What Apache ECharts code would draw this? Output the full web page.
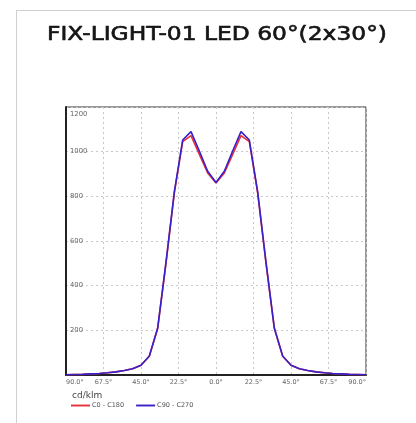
<!DOCTYPE html>
<html>
<head>
<meta charset="utf-8">
<script src="https://cdn.jsdelivr.net/npm/echarts@6/dist/echarts.min.js"></script>
<style>
html,body{margin:0;padding:0;background:#fff;overflow:hidden;}
#card{position:absolute;left:16px;top:10px;width:440px;height:440px;border:1px solid #d0d0d0;box-sizing:border-box;}
#chart{position:absolute;left:0;top:0;width:416px;height:423px;}
</style>
</head>
<body>
<div id="card"></div>
<div id="chart"></div>
<script>
var angles = [-90,-85,-80,-75,-70,-65,-60,-55,-50,-45,-40,-35,-30,-25,-20,-15,-10,-5,0,5,10,15,20,25,30,35,40,45,50,55,60,65,70,75,80,85,90];
var c0c180 = [1,2,3,5,7,10,14,20,28,44,84,208,500,815,1045,1072,988,905,860,905,988,1072,1045,815,500,208,84,44,28,20,14,10,7,5,3,2,1];
var c90c270 = [1,2,3,5,7,10,14,20,28,44,85,210,505,820,1052,1090,1003,912,862,912,1003,1090,1052,820,505,210,85,44,28,20,14,10,7,5,3,2,1];
var seriesNames = ['C0 - C180','C90 - C270'];
var titleText = 'FIX-LIGHT-01 LED 60°(2x30°)';
var unitText = 'cd/klm';

function pairs(vals){ return angles.map(function(a,i){ return [a, vals[i]]; }); }

var chart = echarts.init(document.getElementById('chart'));
chart.setOption({
  animation:false,
  graphic:[{
    type:'text', x:217, y:35.5, scaleX:1.23, scaleY:1,
    style:{text:titleText, fontFamily:'DejaVu Sans', fontSize:19, fontWeight:'normal',
      fill:'#151515', stroke:'#151515', lineWidth:0.6, align:'center', verticalAlign:'middle'}
  }],
  title:[{
    text:unitText, left:67, top:386,
    textStyle:{fontFamily:'DejaVu Sans', fontSize:9, fontWeight:'normal', color:'#444'}
  }],
  legend:{
    data:seriesNames, left:66, top:397, itemWidth:19, itemHeight:8, itemGap:12,
    icon:'path://M0,4 L20,4 L20,6 L0,6 Z',
    textStyle:{fontFamily:'DejaVu Sans', fontSize:6.5, color:'#555', padding:[0,0,0,-3]}
  },
  grid:{left:66, right:50, top:107, bottom:48, show:true, borderColor:'#333', borderWidth:1},
  xAxis:{
    type:'value', min:-90, max:90, interval:22.5,
    axisLine:{show:true, onZero:false, lineStyle:{color:'#222', width:2}},
    axisTick:{show:false},
    splitLine:{show:true, lineStyle:{color:'#c8c8c8', type:[2,3], width:1}},
    axisLabel:{fontFamily:'DejaVu Sans', fontSize:6.5, color:'#666', margin:4,
      alignMinLabel:'left', alignMaxLabel:'right',
      formatter:function(v){ return Math.abs(v).toFixed(1)+'°'; }}
  },
  yAxis:{
    type:'value', min:0, max:1200, interval:200,
    axisLine:{show:true, onZero:false, lineStyle:{color:'#222', width:2}},
    axisTick:{show:false},
    splitLine:{show:true, lineStyle:{color:'#c8c8c8', type:[2,3], width:1}},
    axisLabel:{inside:true, fontFamily:'DejaVu Sans', fontSize:6.8, color:'#666', margin:4,
      showMinLabel:false, verticalAlignMaxLabel:'top',
      formatter:function(v){ return v === 1200 ? '{t|' + v + '}' : String(v); },
      rich:{t:{fontFamily:'DejaVu Sans', fontSize:6.8, color:'#666', padding:[4,0,0,0]}}}
  },
  series:[{
    name:seriesNames[0], type:'line', data:pairs(c0c180), symbol:'none',
    lineStyle:{color:'#e8303a', width:1.6}, itemStyle:{color:'#e8303a'}, z:2
  },{
    name:seriesNames[1], type:'line', data:pairs(c90c270), symbol:'none',
    lineStyle:{color:'#3a20c8', width:1.6}, itemStyle:{color:'#3a20c8'}, z:3
  }]
});
</script>
</body>
</html>
